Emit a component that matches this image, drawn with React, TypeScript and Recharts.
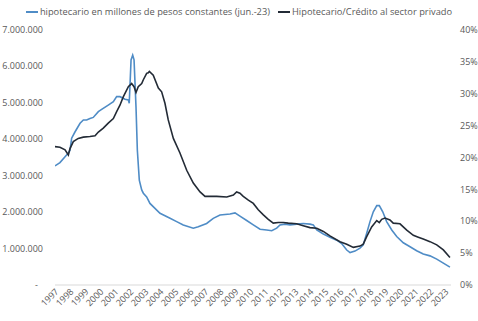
import React from "react";
import { LineChart, Line, XAxis, YAxis } from "recharts";

const yearTicks = [1997, 1998, 1999, 2000, 2001, 2002, 2003, 2004, 2005, 2006, 2007, 2008, 2009, 2010, 2011, 2012, 2013, 2014, 2015, 2016, 2017, 2018, 2019, 2020, 2021, 2022, 2023];

const leftTicks = [0, 1000000, 2000000, 3000000, 4000000, 5000000, 6000000, 7000000];
const rightTicks = [0, 5, 10, 15, 20, 25, 30, 35, 40];

const seriesNames = ["hipotecario en millones de pesos constantes (jun.-23)", "Hipotecario/Crédito al sector privado"];

const mortgageDates = [
  1997.0, 1997.33, 1997.67, 1997.89, 1998.0, 1998.11, 1998.33, 1998.67, 1998.89, 1999.11,
  1999.33, 1999.55, 1999.89, 2000.11, 2000.55, 2000.89, 2001.11, 2001.33, 2001.67, 2001.89,
  2001.95, 2002.07, 2002.18, 2002.27, 2002.4, 2002.49, 2002.62, 2002.78, 2002.89, 2003.11,
  2003.33, 2004.0, 2004.67, 2005.11, 2005.55, 2006.22, 2006.55, 2007.11, 2007.55, 2008.0,
  2008.67, 2009.0, 2009.33, 2009.78, 2010.22, 2010.67, 2011.11, 2011.45, 2011.78, 2012.0,
  2012.33, 2012.67, 2013.11, 2013.55, 2014.0, 2014.22, 2014.45, 2014.89, 2015.33, 2015.78,
  2016.11, 2016.45, 2016.67, 2017.0, 2017.33, 2017.55, 2017.78, 2018.0, 2018.22, 2018.45,
  2018.62, 2018.85, 2019.11, 2019.45, 2019.78, 2020.22, 2020.67, 2021.11, 2021.55, 2022.0,
  2022.45, 2022.89, 2023.33,
];
const mortgageValues = [
  3270000, 3360000, 3520000, 3620000, 3700000, 4030000, 4200000, 4440000, 4530000, 4530000,
  4570000, 4600000, 4760000, 4820000, 4940000, 5030000, 5170000, 5170000, 5100000, 5080000,
  4990000, 6180000, 6310000, 6180000, 4890000, 3700000, 2880000, 2610000, 2520000, 2420000,
  2240000, 1970000, 1830000, 1740000, 1650000, 1560000, 1600000, 1690000, 1830000, 1920000,
  1950000, 1980000, 1890000, 1770000, 1650000, 1530000, 1510000, 1490000, 1560000, 1650000,
  1670000, 1650000, 1670000, 1690000, 1670000, 1650000, 1510000, 1400000, 1310000, 1230000,
  1140000, 960000, 890000, 930000, 1010000, 1100000, 1420000, 1740000, 2010000, 2180000,
  2180000, 2010000, 1740000, 1510000, 1330000, 1160000, 1050000, 940000, 850000, 800000,
  710000, 600000, 490000,
];

const ratioDates = [
  1997.0, 1997.33, 1997.67, 1997.89, 1998.0, 1998.22, 1998.55, 1998.89, 1999.33, 1999.67,
  1999.89, 2000.22, 2000.55, 2000.89, 2001.11, 2001.33, 2001.55, 2001.89, 2002.11, 2002.27,
  2002.4, 2002.55, 2002.78, 2002.89, 2003.11, 2003.22, 2003.29, 2003.55, 2003.89, 2004.11,
  2004.33, 2004.55, 2004.89, 2005.33, 2005.78, 2006.22, 2006.67, 2007.0, 2007.78, 2008.45,
  2008.89, 2009.11, 2009.33, 2009.55, 2009.89, 2010.22, 2010.55, 2010.89, 2011.22, 2011.55,
  2011.89, 2012.22, 2012.55, 2013.11, 2013.55, 2014.0, 2014.45, 2014.89, 2015.33, 2016.0,
  2016.45, 2016.89, 2017.33, 2017.55, 2017.78, 2018.11, 2018.45, 2018.62, 2018.78, 2019.0,
  2019.33, 2019.55, 2020.0, 2020.45, 2020.89, 2021.22, 2021.55, 2022.0, 2022.45, 2022.89,
  2023.33,
];
const ratioValues = [
  21.7, 21.6, 21.2, 20.4, 21.4, 22.5, 23.0, 23.2, 23.3, 23.4,
  24.0, 24.6, 25.4, 26.1, 27.2, 28.2, 29.5, 31.1, 31.6, 31.1,
  30.2, 31.1, 31.6, 32.2, 33.2, 33.3, 33.5, 32.9, 30.9, 30.3,
  28.5, 25.9, 23.0, 20.7, 18.0, 16.0, 14.6, 13.9, 13.9, 13.8,
  14.1, 14.6, 14.4, 13.9, 13.3, 12.8, 11.8, 11.0, 10.3, 9.7,
  9.8, 9.8, 9.7, 9.6, 9.3, 9.0, 8.9, 8.4, 7.7, 6.8,
  6.4, 5.9, 6.1, 6.4, 7.6, 9.1, 10.1, 9.8, 10.3, 10.5,
  10.2, 9.7, 9.6, 8.6, 7.8, 7.5, 7.2, 6.8, 6.3, 5.5,
  4.3,
];

const mortgageData = mortgageDates.map((x, i) => ({ x, v: mortgageValues[i] }));
const ratioData = ratioDates.map((x, i) => ({ x, r: ratioValues[i] }));

const BLUE = "#4f8cc6";
const DARK = "#232b36";
const TEXT = "#595959";
const FONT = "'Open Sans', sans-serif";

const fmtThousands = (v: number) => {
  if (v === 0) return "-";
  return String(Math.round(v)).replace(/\B(?=(\d{3})+(?!\d))/g, ".");
};

const LeftTick = (props: any) => {
  const { x, y, payload } = props;
  const label = fmtThousands(payload.value);
  return (
    <text x={payload.value === 0 ? x - 5 : x} y={y} dy={3} textAnchor="end" fill={TEXT} fontSize={9} fontFamily={FONT}>
      {label}
    </text>
  );
};

const XTick = (props: any) => {
  const { x, y, payload } = props;
  return (
    <text x={x} y={y} dy={6} textAnchor="end" fill={TEXT} fontSize={9} fontFamily={FONT} transform={`rotate(-45, ${x}, ${y})`}>
      {payload.value}
    </text>
  );
};

export default function App() {
  return (
    <div style={{ position: "absolute", left: 0, top: 0, width: 478, height: 321, background: "#fff" }}>
      <div
        style={{
          position: "absolute",
          top: 5,
          left: 0,
          width: 478,
          display: "flex",
          justifyContent: "center",
          fontFamily: FONT,
          fontSize: 9.3,
          color: TEXT,
          whiteSpace: "nowrap",
        }}
      >
        <span style={{ display: "flex", alignItems: "center", marginRight: 8 }}>
          <span style={{ display: "inline-block", width: 12, height: 2, background: BLUE, marginRight: 2 }} />
          {seriesNames[0]}
        </span>
        <span style={{ display: "flex", alignItems: "center" }}>
          <span style={{ display: "inline-block", width: 12, height: 2, background: DARK, marginRight: 2 }} />
          {seriesNames[1]}
        </span>
      </div>
      <LineChart width={478} height={321} margin={{ top: 30, right: 0, bottom: 0, left: 0 }}>
        <XAxis
          dataKey="x"
          type="number"
          domain={[1997, 2023.4]}
          ticks={yearTicks}
          interval={0}
          allowDataOverflow
          height={36}
          tickSize={0}
          tickMargin={3}
          tickLine={false}
          axisLine={{ stroke: "#d9d9d9" }}
          tick={<XTick />}
        />
        <YAxis
          yAxisId="left"
          orientation="left"
          width={55}
          domain={[0, 7000000]}
          ticks={leftTicks}
          interval={0}
          axisLine={false}
          tickLine={false}
          tickSize={0}
          tickMargin={12}
          tick={<LeftTick />}
        />
        <YAxis
          yAxisId="right"
          orientation="right"
          width={27}
          domain={[0, 40]}
          ticks={rightTicks}
          interval={0}
          axisLine={false}
          tickLine={false}
          tickSize={0}
          tickMargin={9}
          tickFormatter={(v: number) => `${v}%`}
          tick={{ fill: TEXT, fontSize: 9, fontFamily: FONT }}
        />
        <Line
          yAxisId="left"
          data={mortgageData}
          dataKey="v"
          stroke={BLUE}
          strokeWidth={1.6}
          dot={false}
          isAnimationActive={false}
          type="linear"
        />
        <Line
          yAxisId="right"
          data={ratioData}
          dataKey="r"
          stroke={DARK}
          strokeWidth={1.6}
          dot={false}
          isAnimationActive={false}
          type="linear"
        />
      </LineChart>
    </div>
  );
}
